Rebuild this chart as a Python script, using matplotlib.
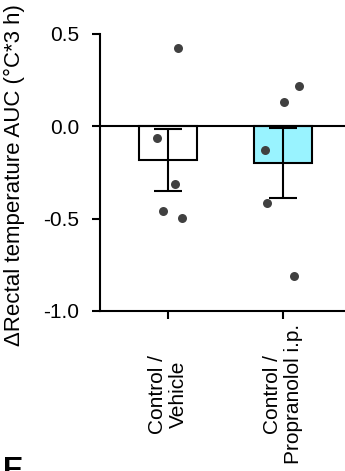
import matplotlib
matplotlib.use('Agg')
import matplotlib.pyplot as plt
import numpy as np

plt.rcParams['font.family'] = ['Liberation Sans', 'DejaVu Sans']

# groups and values
groups = ['Control /\nVehicle', 'Control /\nPropranolol i.p.']
bar_colors = ['white', '#99F3FF']
vehicle_pts = [0.423, -0.063, -0.315, -0.461, -0.497]
propranolol_pts = [0.218, 0.133, -0.130, -0.416, -0.809]
# horizontal scatter of the dots (as drawn)
vehicle_jitter = [0.084, -0.093, 0.058, -0.041, 0.119]
propranolol_jitter = [0.137, 0.006, -0.154, -0.142, 0.093]

data = [np.array(vehicle_pts), np.array(propranolol_pts)]
jitter = [np.array(vehicle_jitter), np.array(propranolol_jitter)]
means = [d.mean() for d in data]
sems = [d.std(ddof=1) / np.sqrt(len(d)) for d in data]

fig = plt.figure(figsize=(3.45, 4.71), dpi=100)
ax = fig.add_axes([100 / 345, 1 - 311 / 471, 1 - 100 / 345, (311 - 33.7) / 471])

x = np.arange(len(groups))
ax.bar(x, means, width=0.5, color=bar_colors, edgecolor='black', linewidth=1.5, zorder=2)
ax.errorbar(x, means, yerr=sems, fmt='none', ecolor='black', elinewidth=1.5,
            capsize=10, capthick=1.5, zorder=3)
for i in range(len(groups)):
    ax.scatter(x[i] + jitter[i], data[i], s=42, color='#404040', zorder=4, linewidths=0)

ax.axhline(0, color='black', linewidth=1.5, zorder=5)

ax.set_ylim(-1.0, 0.5)
ax.set_xlim(-0.59, 1.54)
ax.set_yticks([-1.0, -0.5, 0.0, 0.5])
ax.set_yticklabels(['-1.0', '-0.5', '0.0', '0.5'])
ax.set_xticks(x)
ax.set_xticklabels(groups, rotation=90, va='center', ha='center', multialignment='center',
                   linespacing=1.1)
ax.tick_params(axis='x', length=6, width=1.5, pad=54, labelsize=15)
ax.tick_params(axis='y', length=6, width=1.5, pad=9, labelsize=15)

for side in ['top', 'right']:
    ax.spines[side].set_visible(False)
ax.spines['left'].set_linewidth(1.5)
ax.spines['bottom'].set_linewidth(1.5)

ax.set_ylabel('\u0394Rectal temperature AUC (\u00b0C*3 h)', fontsize=16)
ax.yaxis.set_label_coords(-75 / 245, 0.49)

fig.text(3 / 345, 1 - 456 / 471, 'E', fontsize=22, fontweight='bold', va='top', ha='left')

fig.savefig('out.png', dpi=100)
